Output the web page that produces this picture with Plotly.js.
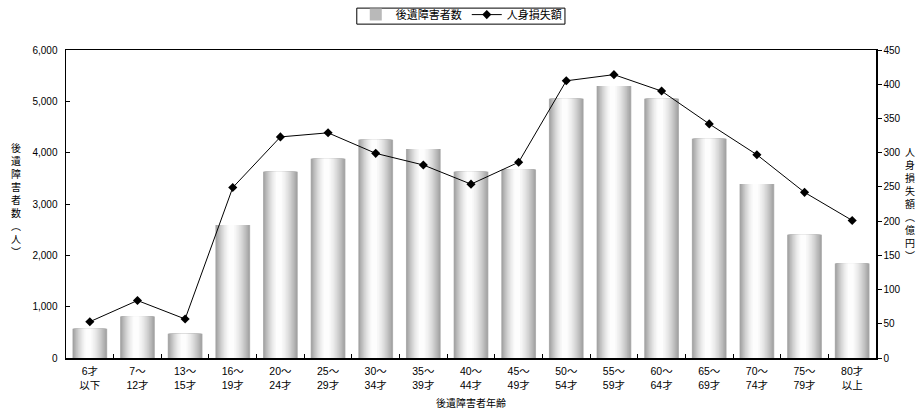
<!DOCTYPE html>
<html>
<head>
<meta charset="utf-8">
<script src="https://cdn.plot.ly/plotly-3.0.1.min.js"></script>
<style>
  html, body { margin: 0; padding: 0; background: #fff; }
  #chart { width: 916px; height: 410px; }
</style>
</head>
<body>
<div id="chart"></div>
<script>
// ---- data ----
const categories = ['6才<br>以下', '7～<br>12才', '13～<br>15才', '16～<br>19才', '20～<br>24才',
  '25～<br>29才', '30～<br>34才', '35～<br>39才', '40～<br>44才', '45～<br>49才', '50～<br>54才',
  '55～<br>59才', '60～<br>64才', '65～<br>69才', '70～<br>74才', '75～<br>79才', '80才<br>以上'];
const victims = [570, 810, 470, 2590, 3630, 3880, 4250, 4070, 3630, 3670, 5050, 5300, 5050, 4270, 3390, 2400, 1840];
const lossAmount = [53, 84, 57, 249, 323, 329, 299, 282, 254, 286, 405, 414, 390, 342, 297, 242, 201];
const barName = '後遺障害者数';
const lineName = '人身損失額';

// ---- styling ----
const FONT = 'Liberation Sans, Noto Sans CJK JP, sans-serif';
const BAR_W = 0.73;      // bar width in category units
const WHITE_AT = 0.45;   // relative position of the light centre
const LEVELS = 18;
const EDGE = 152;        // grey of the bar edges

const traces = [];
// gradient bars: nested bars, each narrower and lighter
for (let j = 0; j < LEVELS; j++) {
  const u = j / LEVELS;
  const d = Math.pow(1 - u, 1 / 1.6);           // normalised half-extent
  const left = WHITE_AT * (1 - d);
  const right = WHITE_AT + (1 - WHITE_AT) * d;
  const frac = Math.min(1, (j + 0.6) / LEVELS);
  const g = Math.round(EDGE + (255 - EDGE) * frac);
  traces.push({
    type: 'bar',
    x: categories,
    y: victims,
    name: barName,
    showlegend: j === 0,
    legendgroup: 'bars',
    offset: -BAR_W / 2 + left * BAR_W,
    width: (right - left) * BAR_W,
    marker: { color: j === 0 ? 'rgb(185,185,185)' : `rgb(${g},${g},${g})`, line: { width: 0 } },
    yaxis: 'y',
    hoverinfo: j === 0 ? 'x+y' : 'skip'
  });
}
traces.push({
  type: 'scatter',
  mode: 'lines+markers',
  x: categories,
  y: lossAmount,
  name: lineName,
  yaxis: 'y2',
  line: { color: '#000', width: 1 },
  marker: { symbol: 'diamond', size: 7, color: '#000' }
});

const layout = {
  width: 916,
  height: 410,
  margin: { l: 66, r: 40, t: 50, b: 52, autoexpand: false },
  paper_bgcolor: '#fff',
  plot_bgcolor: '#fff',
  barmode: 'overlay',
  font: { family: FONT, size: 10, color: '#000' },
  showlegend: true,
  legend: {
    orientation: 'h',
    x: 0.488, xanchor: 'center',
    y: 1.162, yanchor: 'top',
    borderwidth: 0,
    bgcolor: 'rgba(0,0,0,0)',
    font: { family: FONT, size: 11, color: '#000' },
    itemwidth: 30,
    tracegroupgap: 0
  },
  shapes: [
    { type: 'rect', xref: 'paper', yref: 'paper',
      x0: 0.359, x1: 0.616, y0: 1.084, y1: 1.136,
      line: { color: '#000', width: 1 }, fillcolor: 'rgba(0,0,0,0)' }
  ],
  xaxis: {
    type: 'category',
    range: [-0.5, 16.5],
    showline: true, linecolor: '#000', linewidth: 1.5, mirror: true,
    ticks: 'inside', ticklen: 4, tickcolor: '#000', tickson: 'boundaries',
    ticklabelstandoff: 3,
    showgrid: false, zeroline: false,
    tickfont: { family: FONT, size: 10.5, color: '#000' }
  },
  yaxis: {
    range: [0, 6000], dtick: 1000, tickformat: ',d',
    showline: true, linecolor: '#000', linewidth: 1.5,
    ticks: 'inside', ticklen: 4, tickcolor: '#000',
    showgrid: false, zeroline: false,
    ticklabelstandoff: 5,
    tickfont: { family: FONT, size: 10, color: '#000' }
  },
  yaxis2: {
    range: [0, 450], dtick: 50,
    overlaying: 'y', side: 'right',
    showline: true, linecolor: '#000', linewidth: 1.5,
    ticks: 'outside', ticklen: 4, tickcolor: '#000',
    showgrid: false, zeroline: false,
    tickfont: { family: FONT, size: 10, color: '#000' }
  },
  annotations: [
    {
      text: '後<br>遺<br>障<br>害<br>者<br>数<br>︵<br>人<br>︶',
      xref: 'paper', yref: 'paper', x: -0.0617, y: 0.513,
      xanchor: 'center', yanchor: 'middle', showarrow: false,
      font: { family: FONT, size: 10, color: '#000' }
    },
    {
      text: '人<br>身<br>損<br>失<br>額<br>︵<br>億<br>円<br>︶',
      xref: 'paper', yref: 'paper', x: 1.042, y: 0.50,
      xanchor: 'center', yanchor: 'middle', showarrow: false,
      font: { family: FONT, size: 10, color: '#000' }
    },
    {
      text: '後遺障害者年齢',
      xref: 'paper', yref: 'paper', x: 0.5, y: -0.145,
      xanchor: 'center', yanchor: 'middle', showarrow: false,
      font: { family: FONT, size: 10, color: '#000' }
    }
  ]
};

Plotly.newPlot('chart', traces, layout, { displayModeBar: false, staticPlot: true });
</script>
</body>
</html>
